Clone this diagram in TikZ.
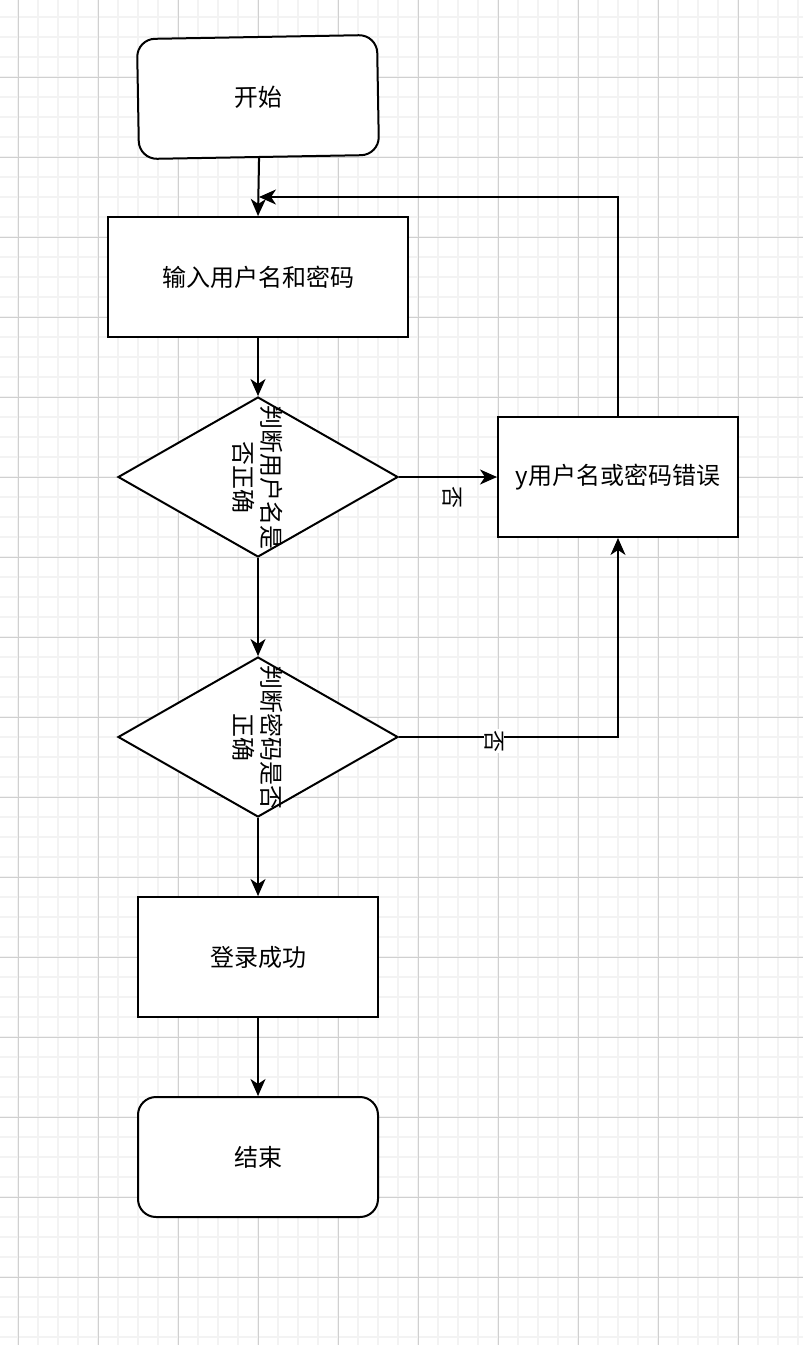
\documentclass[tikz,border=0pt]{standalone}
\usepackage{fontspec}
\setmainfont{Noto Sans CJK SC}
\usetikzlibrary{arrows.meta,shapes.geometric,calc}
\definecolor{gmin}{HTML}{F3F3F3}
\definecolor{gmaj}{HTML}{D0D0D0}
\begin{document}
\begin{tikzpicture}[x=1pt,y=-1pt,
  box/.style={draw, line width=2pt, fill=white, minimum width=240pt, minimum height=120pt, inner sep=0pt, font=\fontsize{24}{28}\selectfont},
  dia/.style={diamond, draw, line width=2pt, fill=white, minimum width=280pt, minimum height=160pt, inner sep=0pt, aspect=1.75},
  dtxt/.style={rotate=-90, align=center, inner sep=0pt, font=\fontsize{24}{28}\selectfont},
  lbl/.style={rotate=-90, inner sep=1pt, font=\fontsize{22}{24}\selectfont},
  arr/.style={line width=2pt, -{Stealth[length=17pt,width=15pt,inset=5pt]}}
]
\useasboundingbox (0,0) rectangle (803,1345);
\fill[white] (0,0) rectangle (803,1345);
% grid
\foreach \x in {-2,18,...,802} \draw[gmin, line width=2pt] (\x,0) -- (\x,1345);
\foreach \y in {-3,17,...,1345} \draw[gmin, line width=2pt] (0,\y) -- (803,\y);
\foreach \x in {18,98,...,802} \draw[gmaj, line width=1pt] (\x,0) -- (\x,1345);
\foreach \y in {-3,77,...,1345} \draw[gmaj, line width=1pt] (0,\y) -- (803,\y);
% nodes
\node[box, rounded corners=18pt, rotate=1] (start) at (258,97) {开始};
\node[box, minimum width=300pt] (input) at (258,277) {输入用户名和密码};
\node[dia] (d1) at (258,477) {};
\node[dtxt] (t1) at (d1.center) {判断用户名是\\否正确};
\node[box] (err) at (618,477) {y用户名或密码错误};
\node[dia] (d2) at (258,737) {};
\node[dtxt] (t2) at (d2.center) {判断密码是否\\正确};
\node[box] (ok) at (258,957) {登录成功};
\node[box, rounded corners=18pt] (end) at (258,1157) {结束};
\coordinate (loopend) at (259,197);
% connectors
\draw[arr] (start.south) -- (input.north);
\draw[arr] (input.south) -- (d1.north);
\draw[arr] (d1.south) -- (d2.north);
\draw[arr] (d1.east) -- (err.west);
\node[lbl] (n1) at (452,497) {否};
\draw[arr] (d2.east) -- (err.south |- d2.east) -- (err.south);
\node[lbl, fill=white] (n2) at (494,741) {否};
\draw[arr] (err.north) |- (loopend);
\draw[arr] (d2.south) -- (ok.north);
\draw[arr] (ok.south) -- (end.north);
\end{tikzpicture}
\end{document}
